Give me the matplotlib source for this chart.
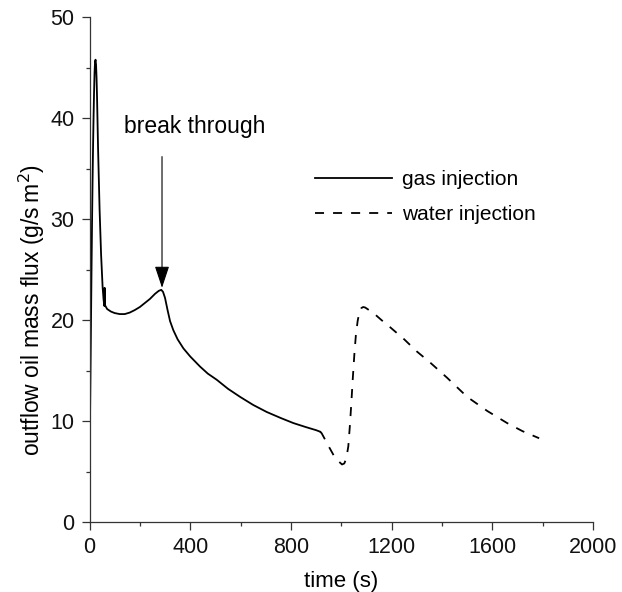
import matplotlib
matplotlib.use("Agg")
import matplotlib.pyplot as plt
from matplotlib.ticker import MultipleLocator

plt.rcParams['font.family'] = ['Liberation Sans', 'DejaVu Sans']

# gas injection (solid)
t_gas = [0, 2, 4, 6, 8, 10, 12, 14, 16, 18, 20, 22, 24, 26, 28, 30, 34, 40,
         46, 52, 56, 59, 60, 61, 70, 85, 100, 120, 140, 160, 180, 200, 220,
         240, 260, 275, 285, 292, 300, 310, 320, 333, 350, 373, 400, 439,
         470, 505, 550, 598, 650, 704, 760, 810, 860, 900, 916]
q_gas = [6.6, 10, 15, 20, 25, 29.5, 33.5, 37, 40, 42.5, 44.5, 45.6, 45.8,
         45.3, 44, 42, 37, 31, 26.5, 23.3, 22, 21.4, 23.2, 21.5, 21.1, 20.85,
         20.7, 20.6, 20.6, 20.75, 21.0, 21.3, 21.7, 22.1, 22.6, 22.9, 23.0,
         22.8, 22.2, 21.0, 19.9, 19.0, 18.1, 17.2, 16.4, 15.4, 14.7, 14.1,
         13.2, 12.4, 11.6, 10.9, 10.3, 9.8, 9.4, 9.1, 8.95]

# water injection (dashed)
t_wat = [916, 922, 935, 950, 970, 990, 1003, 1012, 1020, 1028, 1035, 1040,
         1046, 1052, 1058, 1065, 1072, 1080, 1087, 1095, 1110, 1128, 1160,
         1194, 1250, 1300, 1353, 1420, 1500, 1580, 1659, 1720, 1786]
q_wat = [8.95, 8.8, 8.2, 7.5, 6.6, 6.0, 5.7, 5.8, 6.3, 7.5, 9.8, 11.8, 14.3,
         16.6, 18.5, 19.9, 20.8, 21.2, 21.3, 21.25, 21.0, 20.7, 20.0, 19.3,
         18.1, 16.9, 15.8, 14.3, 12.4, 11.0, 9.8, 9.0, 8.3]

fig = plt.figure(figsize=(6.22, 5.92), dpi=100)
ax = fig.add_axes([0.1439, 0.1182, 0.8095, 0.8526])

ax.plot(t_gas, q_gas, color='black', lw=1.3, label='gas injection')
ax.plot(t_wat, q_wat, color='black', lw=1.3, dashes=(5, 5), label='water injection')

ax.set_xlim(0, 2000)
ax.set_ylim(0, 50)
ax.xaxis.set_major_locator(MultipleLocator(400))
ax.xaxis.set_minor_locator(MultipleLocator(200))
ax.yaxis.set_major_locator(MultipleLocator(10))
ax.yaxis.set_minor_locator(MultipleLocator(5))
for s in ['top', 'right']:
    ax.spines[s].set_visible(False)
for s in ['left', 'bottom']:
    ax.spines[s].set_color('#333333')
    ax.spines[s].set_linewidth(0.9)
ax.tick_params(which='major', direction='out', length=5.8, width=0.9, colors='#333333',
               labelsize=15.5, labelcolor='#111111', pad=5)
ax.tick_params(which='minor', direction='out', length=2.6, width=0.9, colors='#333333')

ax.set_xlabel('time (s)', fontsize=16, labelpad=9)
ax.set_ylabel('outflow oil mass flux (g/s\u2009m$^2$)', fontsize=16.5)
ax.yaxis.set_label_coords(-0.085, 0.42)

ax.annotate('', xy=(288, 23.2), xytext=(288, 36.2),
            arrowprops=dict(arrowstyle='-|>,head_length=1.35,head_width=0.45',
                            color='black', lw=0.8, shrinkA=0, shrinkB=0))
ax.text(418, 39.2, 'break through', fontsize=16.5, ha='center', va='center')

ax.legend(loc='upper left', bbox_to_anchor=(0.448, 0.697), frameon=False,
          fontsize=15, handlelength=3.7, handletextpad=0.45, labelspacing=0.75,
          borderpad=0, borderaxespad=0)

fig.savefig('out.png', dpi=100)
